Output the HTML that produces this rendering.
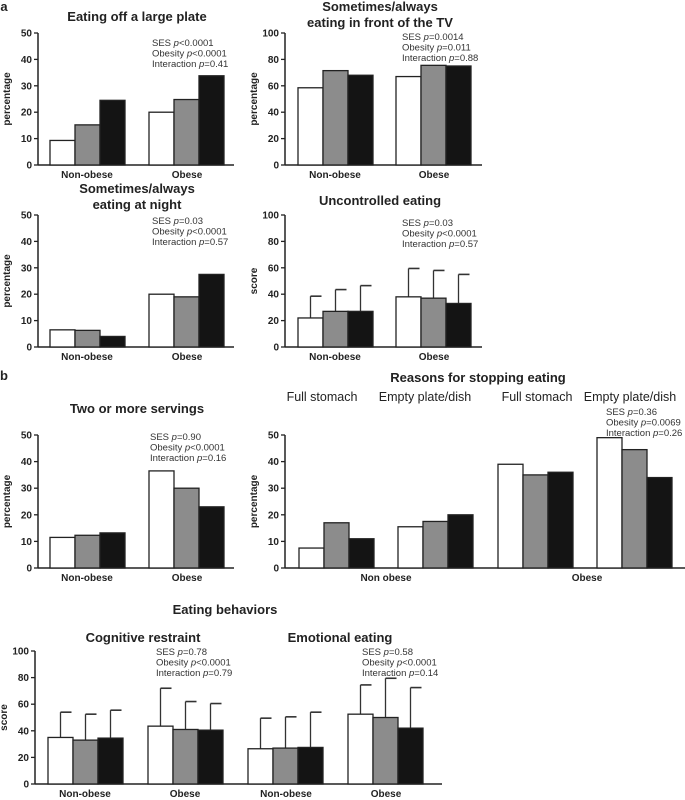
<!DOCTYPE html>
<html><head><meta charset="utf-8"><style>
html,body{margin:0;padding:0;background:#fff;}
svg{display:block;font-family:"Liberation Sans",Arial,sans-serif;}
.t{font-weight:bold;font-size:13px;fill:#222;text-anchor:middle;}
.k{font-weight:bold;font-size:10px;fill:#222;}
.s{font-size:9.5px;fill:#333;}
.h{font-size:12.5px;fill:#222;text-anchor:middle;}
</style></head><body>
<svg id="chart" width="685" height="800" viewBox="0 0 685 800"></svg>
<script>
// Data
const seriesNames = ["low-ses","mid-ses","high-ses"];
const plateValues = [[9.3,15.2,24.5],[20,24.8,33.8]];
const tvValues = [[58.5,71.5,68],[67,75.5,75]];
const nightValues = [[6.5,6.3,4],[20,19,27.5]];
const uncontrolledValues = [[22,27,27],[38,37,33]];
const uncontrolledErrTops = [[38.5,43.5,46.5],[59.5,58,55]];
const servingsValues = [[11.5,12.3,13.2],[36.5,30,23]];
const stoppingValues = [[7.5,17,11],[15.5,17.5,20],[39,35,36],[49,44.5,34]];
const behaviorValues = [[35,33,34.5],[43.5,41,40.5],[26.5,27,27.5],[52.5,50,42]];
const behaviorErrTops = [[54,52.5,55.5],[72,62,60.5],[49.5,50.5,54],[74.5,79.5,72.5]];
const ticks50 = [0,10,20,30,40,50];
const ticks100 = [0,20,40,60,80,100];

const NS="http://www.w3.org/2000/svg";
const svg=document.getElementById('chart');
const fills=["#fff","#8c8c8c","#141414"];
function el(tag,attrs,parent){const e=document.createElementNS(NS,tag);for(const k in attrs)e.setAttribute(k,attrs[k]);(parent||svg).appendChild(e);return e;}
function txt(x,y,s,cls,parent,anchor){const e=el('text',{x:x,y:y,class:cls},parent);if(anchor)e.setAttribute('text-anchor',anchor);e.textContent=s;return e;}

function panel(name,o){
  const g=el('g',{});
  
  
  const max=o.ticks[o.ticks.length-1];
  const yS=v=>o.yBot-(v/max)*(o.yBot-o.yTop);
  const ya=el('line',{x1:o.ax,y1:o.yTop,x2:o.ax,y2:o.yBot,stroke:'#222','stroke-width':1.5},g);
  
  
  o.ticks.forEach(t=>{
    el('line',{x1:o.ax-4,y1:yS(t),x2:o.ax,y2:yS(t),stroke:'#222','stroke-width':1.3},g);
    const tl=txt(o.ax-6,yS(t)+3.5,String(t),'k',g,'end');
    
    
  });
  const xa=el('line',{x1:o.ax,y1:o.yBot,x2:o.axEnd,y2:o.yBot,stroke:'#222','stroke-width':1.5},g);
  
  
  o.values.forEach((grp,gi)=>{
    grp.forEach((v,i)=>{
      const x=o.starts[gi]+i*o.bw;
      if(o.err){
        const et=yS(o.err[gi][i]);const cx=x+o.bw/2;
        el('line',{x1:cx,y1:yS(v),x2:cx,y2:et,stroke:'#333','stroke-width':1.3},g);
        el('line',{x1:cx,y1:et,x2:cx+11,y2:et,stroke:'#333','stroke-width':1.6},g);
      }
      const r=el('rect',{x:x,y:yS(v),width:o.bw,height:o.yBot-yS(v),fill:fills[i],stroke:'#222','stroke-width':1.3},g);
      
      
    });
  });
  o.xlabels.forEach(l=>{
    const t=txt(l[0],o.yBot+13,l[1],'k',g,'middle');
    
    
  });
  if(o.ylabel){
    const yl=el('text',{x:0,y:0,class:'k',transform:`translate(${o.ax-28},${(o.yTop+o.yBot)/2}) rotate(-90)`,'text-anchor':'middle'},g);
    yl.textContent=o.ylabel;
    
    
  }
  if(o.stats){
    const parts=[["SES ","p",o.stats[0]],["Obesity ","p",o.stats[1]],["Interaction ","p",o.stats[2]]];
    parts.forEach((p,i)=>{
      const t=el('text',{x:o.sx,y:o.sy+i*10.5,class:'s'},g);
      
      
      t.appendChild(document.createTextNode(p[0]));
      const it=el('tspan',{'font-style':'italic'},t);it.textContent=p[1];
      t.appendChild(document.createTextNode(p[2]));
    });
  }
  (o.titles||[]).forEach(tt=>{
    const t=txt(tt[0],tt[1],tt[2],'t',g);
    
    
  });
}
const bw=25;
panel('plate-panel',{ax:38,axEnd:234,yTop:33,yBot:165,ticks:ticks50,bw:bw,starts:[50,149],values:plateValues,
  xlabels:[[87,'Non-obese'],[187,'Obese']],ylabel:'percentage',stats:['<0.0001','<0.0001','=0.41'],sx:152,sy:46,
  titles:[[137,21,'Eating off a large plate']]});
panel('tv-panel',{ax:285,axEnd:482,yTop:33,yBot:165,ticks:ticks100,bw:bw,starts:[298,396],values:tvValues,
  xlabels:[[335,'Non-obese'],[434,'Obese']],ylabel:'percentage',stats:['=0.0014','=0.011','=0.88'],sx:402,sy:40,
  titles:[[380,11,'Sometimes/always'],[380,27,'eating in front of the TV']]});
panel('night-panel',{ax:38,axEnd:234,yTop:215,yBot:347,ticks:ticks50,bw:bw,starts:[50,149],values:nightValues,
  xlabels:[[87,'Non-obese'],[187,'Obese']],ylabel:'percentage',stats:['=0.03','<0.0001','=0.57'],sx:152,sy:224,
  titles:[[137,193,'Sometimes/always'],[137,209,'eating at night']]});
panel('uncontrolled-panel',{ax:285,axEnd:482,yTop:215,yBot:347,ticks:ticks100,bw:bw,starts:[298,396],values:uncontrolledValues,err:uncontrolledErrTops,
  xlabels:[[335,'Non-obese'],[434,'Obese']],ylabel:'score',stats:['=0.03','<0.0001','=0.57'],sx:402,sy:226,
  titles:[[380,205,'Uncontrolled eating']]});
panel('servings-panel',{ax:38,axEnd:234,yTop:435,yBot:568,ticks:ticks50,bw:bw,starts:[50,149],values:servingsValues,
  xlabels:[[87,'Non-obese'],[187,'Obese']],ylabel:'percentage',stats:['=0.90','<0.0001','=0.16'],sx:150,sy:440,
  titles:[[137,413,'Two or more servings']]});
panel('stopping-panel',{ax:285,axEnd:685,yTop:435,yBot:568,ticks:ticks50,bw:bw,starts:[299,398,498,597],values:stoppingValues,
  xlabels:[[386,'Non obese'],[587,'Obese']],ylabel:'percentage',stats:['=0.36','=0.0069','=0.26'],sx:606,sy:415,
  titles:[[478,382,'Reasons for stopping eating']]});
panel('behaviors-panel',{ax:35,axEnd:442,yTop:651,yBot:784,ticks:ticks100,bw:bw,starts:[48,148,248,348],values:behaviorValues,err:behaviorErrTops,
  xlabels:[[85,'Non-obese'],[185,'Obese'],[286,'Non-obese'],[386,'Obese']],ylabel:'score',stats:['=0.78','<0.0001','=0.79'],sx:156,sy:655,
  titles:[[143,642,'Cognitive restraint'],[340,642,'Emotional eating']]});
(function(){const g=el('g',{});
 [["SES ","=0.58"],["Obesity ","<0.0001"],["Interaction ","=0.14"]].forEach((p,i)=>{const t=el('text',{x:362,y:655+i*10.5,class:'s'},g);t.appendChild(document.createTextNode(p[0]));const it=el('tspan',{'font-style':'italic'},t);it.textContent='p';t.appendChild(document.createTextNode(p[1]));});})();
[[4,11,'a'],[4,380,'b']].forEach(h=>{const t=txt(h[0],h[1],h[2],'t');t.setAttribute('text-anchor','start');});
const eb=txt(225,614,'Eating behaviors','t');


[[322,'Full stomach'],[425,'Empty plate/dish'],[537,'Full stomach'],[630,'Empty plate/dish']].forEach(s=>{
  const t=txt(s[0],401,s[1],'h');
  
  
});
</script>
</body></html>
